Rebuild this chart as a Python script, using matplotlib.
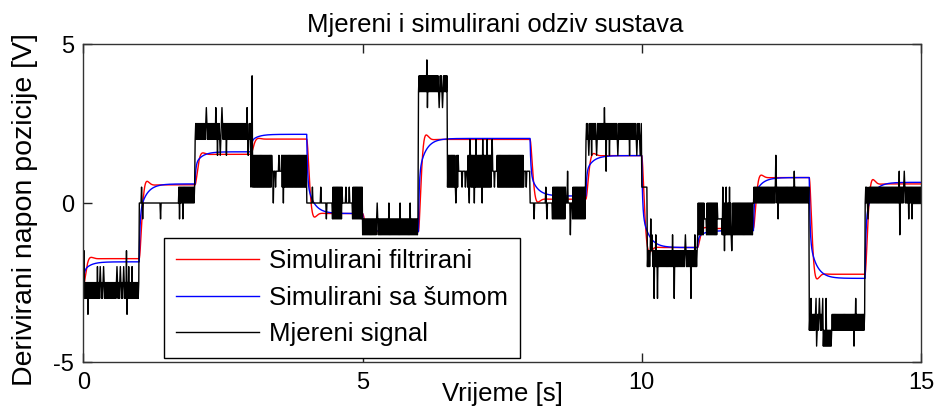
import numpy as np
import matplotlib
matplotlib.use('Agg')
import matplotlib.pyplot as plt

plt.rcParams['font.family'] = ['Liberation Sans', 'DejaVu Sans']
plt.rcParams['axes.unicode_minus'] = False

# reference steps for the two simulated models (one level per second)
step_times = [0, 1, 2, 3, 4, 5, 6, 7, 8, 9, 10, 11, 12, 13, 14]
filt_levels = [-1.75, 0.57, 1.53, 2.01, -0.33, -0.90, 2.00, 2.00, 0.12, 1.49, -1.40, -0.80, 0.80, -2.24, 0.60]
noise_levels = [-1.85, 0.60, 1.61, 2.16, -0.33, -0.90, 2.03, 2.03, 0.22, 1.49, -1.40, -0.87, 0.80, -2.37, 0.65]
sim_start = -2.6

# measured derivative: quantised band (0.5 V steps) per interval
meas_times = [0, 1, 2, 3, 4, 5, 6, 6.52, 8, 9, 10, 11, 12, 13, 14]
meas_lo = [-3.0, 0.0, 2.0, 0.5, -0.5, -1.0, 3.5, 0.5, -0.5, 2.0, -2.0, -1.0, 0.0, -4.0, 0.0]
meas_hi = [-2.5, 0.5, 2.5, 1.5, 0.5, -0.5, 4.0, 1.5, 0.5, 2.5, -1.5, 0.0, 0.5, -3.5, 0.5]
# stretches where the signal sits on one level: (start, end, level)
meas_quiet = [(1.00, 1.70, 0.0), (3.38, 3.55, 1.0), (4.00, 4.46, 0.0), (4.64, 4.82, 0.0),
              (6.72, 6.88, 1.0), (7.33, 7.41, 1.0), (7.89, 8.00, 1.0), (8.00, 8.40, 0.0),
              (8.64, 8.76, 0.0), (10.00, 10.10, 0.5), (11.12, 11.16, -0.5), (11.36, 11.44, -0.5)]
# single-sample outliers: (time, value)
meas_spikes = [(0.01, -1.5), (0.08, -3.5), (0.25, -2.0), (0.30, -2.0), (0.36, -2.0), (0.60, -2.0),
               (0.66, -2.0), (0.72, -2.0), (0.77, -1.5), (0.78, -3.5), (0.81, -2.0), (0.87, -2.0),
               (1.04, 0.5), (1.06, -0.5), (1.38, -0.5), (1.72, -0.5), (1.78, -0.5),
               (2.20, 3.0), (2.37, 3.0), (2.40, 1.5), (2.45, 1.5), (2.48, 3.0), (2.56, 1.5),
               (2.93, 3.0), (2.95, 1.5), (3.02, 4.0), (3.03, 0.5),
               (3.40, 0.0), (3.44, 0.5), (3.50, 1.5), (3.58, 0.0),
               (4.10, 0.5), (4.25, 0.5), (4.35, -0.5), (4.70, 0.5), (4.76, 0.5),
               (5.26, 0.0), (5.47, 0.0), (5.67, 0.0), (5.85, 0.0),
               (6.15, 4.5), (6.16, 3.0), (6.37, 3.0), (6.43, 3.0),
               (6.67, 0.0), (6.78, 0.5), (6.84, 0.5), (6.91, 0.0), (6.92, 2.0), (7.00, 0.0),
               (7.03, 2.0), (7.14, 0.0), (7.15, 2.0), (7.23, 2.0), (7.32, 2.0), (7.36, 0.5), (7.93, 0.5),
               (8.07, -0.5), (8.28, 0.5), (8.30, -0.5), (8.67, 1.0), (8.72, -1.0),
               (9.05, 1.5), (9.10, 1.5), (9.19, 1.5), (9.33, 3.0), (9.36, 1.0), (9.42, 1.5),
               (9.57, 1.5), (9.78, 1.5), (9.91, 1.5), (9.97, 1.5),
               (10.16, -0.5), (10.18, -1.0), (10.22, -3.0), (10.25, -1.0), (10.28, -3.0),
               (10.55, -1.0), (10.58, -3.0), (10.78, -1.0), (10.88, -3.0), (10.95, -1.0),
               (11.45, 0.5), (11.48, -1.5), (11.51, 0.5), (11.57, 0.5), (11.61, -1.5),
               (12.22, 0.0), (12.40, 1.5), (12.44, -0.5), (12.73, 1.0),
               (13.03, -3.0), (13.12, -3.0), (13.13, -4.5), (13.18, -3.0), (13.24, -3.0),
               (13.25, -4.5), (13.27, -4.5), (13.29, -4.5), (13.30, -3.0), (13.31, -4.5),
               (13.33, -4.5), (13.35, -4.5), (13.37, -4.5), (13.39, -4.5), (13.80, -4.5), (13.83, -3.0),
               (14.05, -0.5), (14.61, 1.0), (14.62, -1.0), (14.70, 1.0), (14.78, -0.5), (14.84, -0.5)]

#########################
fs_text = 18.5          #
fs_ticks = 17           #
fs_ylabel = 20.5        #
lw = 1.0                #
#########################


def hold(times, vals, tt):
    idx = np.searchsorted(times, tt, side='right') - 1
    return np.asarray(vals, dtype=float)[idx]


# simulated responses
dt = 0.002
t = np.arange(0, 15 + dt / 2, dt)
u_f = hold(step_times, filt_levels, t)
u_n = hold(step_times, noise_levels, t)

y_filt = np.empty_like(t)
pos, vel = sim_start, 0.0
wn, zeta = 30.0, 0.68
for k in range(len(t)):
    acc = wn ** 2 * (u_f[k] - pos) - 2 * zeta * wn * vel
    vel += acc * dt
    pos += vel * dt
    y_filt[k] = pos

y_noise = np.empty_like(t)
fast = slow = sim_start
for k in range(len(t)):
    fast += (u_n[k] - fast) * dt / 0.015
    slow += (u_n[k] - slow) * dt / 0.12
    y_noise[k] = 0.6 * fast + 0.4 * slow

# measured signal, 10 ms samples chattering between two quantisation levels
dtm = 0.01
tm = np.arange(0, 15 + dtm / 2, dtm)
lo = hold(meas_times, meas_lo, tm)
hi = hold(meas_times, meas_hi, tm)
meas = np.where(np.arange(len(tm)) % 2 == 0, lo, hi)
for t0, t1, lev in meas_quiet:
    meas[(tm >= t0 - 1e-9) & (tm < t1 - 1e-9)] = lev
for ts, v in meas_spikes:
    meas[int(round(ts / dtm))] = v

fig = plt.figure(figsize=(9.36, 4.09), dpi=100)
ax = fig.add_axes([0.0892, 0.1149, 0.8948, 0.7775])

ax.plot(t, y_filt, color='#ff0000', linewidth=lw, label='Simulirani filtrirani')
ax.plot(t, y_noise, color='#0000ff', linewidth=lw, label='Simulirani sa šumom')
ax.plot(tm, meas, color='#000000', linewidth=lw, label='Mjereni signal')

ax.set_xlim(0, 15)
ax.set_ylim(-5, 5)
ax.set_xticks([0, 5, 10, 15])
ax.set_yticks([-5, 0, 5])
ax.tick_params(direction='in', top=True, right=True, length=6.5, width=1,
               labelsize=fs_ticks, pad=7, colors='#222222', labelcolor='black')
for sp in ax.spines.values():
    sp.set_linewidth(1.0)
    sp.set_color('#333333')

ax.set_title('Mjereni i simulirani odziv sustava', fontsize=fs_text, x=0.492, y=1.0387, pad=0)
ax.set_xlabel('Vrijeme [s]', fontsize=fs_text)
ax.xaxis.set_label_coords(0.5, -0.064)
ax.set_ylabel('Derivirani napon pozicije [V]', fontsize=fs_ylabel)
ax.yaxis.set_label_coords(-0.054, 0.48)

leg = ax.legend(loc='lower left', bbox_to_anchor=(0.0961, 0.0126), borderaxespad=0,
                fontsize=fs_text, fancybox=False, framealpha=1, edgecolor='black',
                handlelength=3.25, handletextpad=0.4, borderpad=0.45, labelspacing=0.49)
leg.get_frame().set_linewidth(1.0)

fig.savefig('out.png', dpi=100)
plt.close()
